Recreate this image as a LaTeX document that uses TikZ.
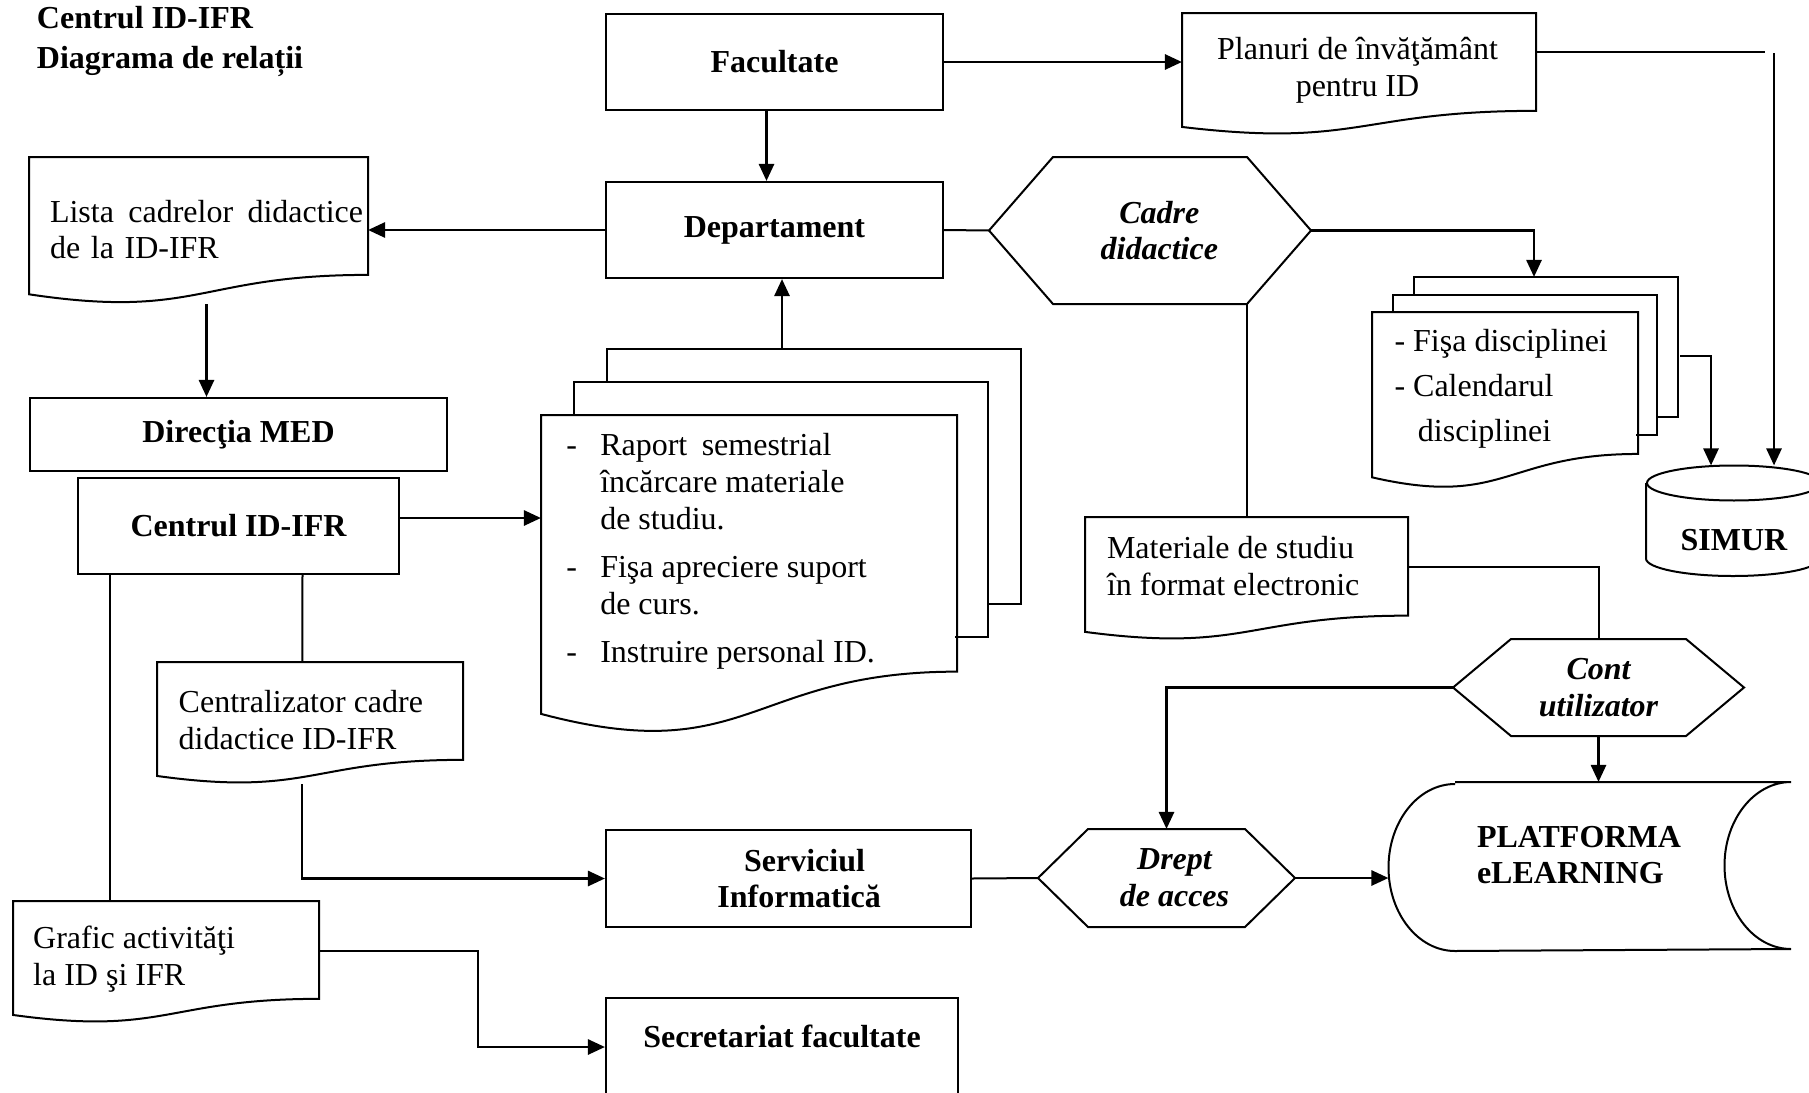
\documentclass[tikz,border=0pt]{standalone}
\usepackage{fontspec}
\setmainfont{Liberation Serif}
\usetikzlibrary{calc,arrows.meta}

\newcommand{\docpath}[1]{%
  \draw (#1.north west) -- (#1.north east) -- ($(#1.north east)!0.802!(#1.south east)$)
    .. controls ($(#1.north)!0.802!(#1.south)$) and ($(#1.north)!1.107!(#1.south)$)
    .. ($(#1.north west)!0.934!(#1.south west)$) -- cycle;}
\newcommand{\hexpath}[2]{%
  \draw (#1.west) -- ($(#1.north west)+(#2,0)$) -- ($(#1.north east)+(-#2,0)$) -- (#1.east)
    -- ($(#1.south east)+(-#2,0)$) -- ($(#1.south west)+(#2,0)$) -- cycle;}

\begin{document}
\begin{tikzpicture}[x=0.375pt,y=-0.375pt,line width=0.75pt,
        sz/.style 2 args={minimum width=#1*0.375pt,minimum height=#2*0.375pt}]
        \tikzstyle{every node}=[inner sep=0pt,font=\fontsize{12pt}{13.8pt}\selectfont]
        \tikzstyle{box}=[draw,align=center,font=\fontsize{12pt}{13.8pt}\selectfont\bfseries]
        \tikzstyle{hexa}=[align=center,font=\fontsize{12pt}{13.8pt}\selectfont\bfseries\itshape]
        \tikzstyle{txt}=[anchor=west,align=left]
        \tikzstyle{arr}=[line width=1.1pt,-{Triangle[length=6.4pt,width=5.6pt]}]
        \useasboundingbox (0,0) rectangle (1809,1092);
        \clip (0,0) rectangle (1809,1092);

        \node[txt,font=\fontsize{12pt}{15pt}\selectfont\bfseries] (title) at (36,41) {Centrul ID-IFR\\Diagrama de relații};

        \node[box,sz={337}{96}] (fac) at (774.5,62) {Facultate};
        \node[box,sz={337}{96}] (dep) at (774.5,230) {Departament};
        \node[box,sz={417}{73}] (med) at (238.5,434.5) {Direcţia MED};
        \node[box,sz={321}{96}] (cid) at (238.5,526) {Centrul ID-IFR};
        \node[box,sz={365}{97}] (serv) at (788.5,878.5) {\hspace*{12pt}Serviciul\\\hspace*{8pt}Informatică};
        \node[draw,font=\fontsize{12pt}{13.8pt}\selectfont\bfseries,minimum width=352*0.375pt,
            text height=18.56pt,text depth=24.19pt] (secr) at (782,1055) {Secretariat facultate};

        \node[hexa,sz={320}{145}] (cadre) at (1150,230.5) {\hspace*{7pt}Cadre\\\hspace*{7pt}didactice};
        \hexpath{cadre}{64}
        \node[hexa,sz={289}{95}] (cont) at (1598.5,687.5) {Cont\\utilizator};
        \hexpath{cont}{58}
        \node[hexa,sz={255}{96}] (drept) at (1166.5,878) {\hspace*{6pt}Drept\\\hspace*{6pt}de acces};
        \hexpath{drept}{50}

        \node[sz={337}{145}] (lista) at (198.5,230.5) {};
        \docpath{lista}
        \node[txt,text width=117.4pt] (listatxt) at ($(lista.west)+(20,-1)$) {Lista\hfill cadrelor\hfill didactice\\de la ID-IFR};

        \node[sz={352}{120}] (planuri) at (1359,74) {};
        \docpath{planuri}
        \node[align=center] (planuritxt) at ($(planuri)+(-1.5,-3.5)$) {Planuri de învăţământ\\pentru ID};

        \node[sz={414}{318}] (raport) at (749,575) {};
        \docpath{raport}
        \foreach \sh in {33,66}
            \draw ($(raport.north west)+(\sh,33-\sh)$) -- ++(0,-33) -- ++(414,0) -- ++(0,255) -- ++(-33,0);
        \node[anchor=west] (raporttxt) at ($(raport.west)+(24.4,-23)$) {\begin{tabular}{@{}p{12.7pt}@{}l@{}}
            -&Raport\hspace{5.4pt}semestrial\\
             &încărcare materiale\\
             &de studiu.\\[4.3pt]
            -&Fişa apreciere suport\\
             &de curs.\\[4.3pt]
            -&Instruire personal ID.
            \end{tabular}};

        \node[sz={264}{175}] (disc) at (1505,400.5) {};
        \docpath{disc}
        \foreach \sh in {1,2}
            \draw ($(disc.north west)+({21*\sh},{17.5-17.5*\sh})$) -- ++(0,-17.5) -- ++(264,0) -- ++(0,140) -- ++(-21,0);
        \node[txt,font=\fontsize{12pt}{16.9pt}\selectfont] (disctxt) at ($(disc.west)+(21.5,-12)$) {- Fişa disciplinei\\- Calendarul\\\hspace*{8.8pt}disciplinei};

        \node[sz={321}{121}] (mat) at (1246.5,578.5) {};
        \docpath{mat}
        \node[txt] (mattxt) at ($(mat.west)+(21,-12.5)$) {Materiale de studiu\\în format electronic};

        \node[sz={304}{120}] (centr) at (310,723) {};
        \docpath{centr}
        \node[txt] (centrtxt) at ($(centr.west)+(20.7,-3.3)$) {Centralizator cadre\\didactice ID-IFR};

        \node[sz={304}{120}] (grafic) at (166,962) {};
        \docpath{grafic}
        \node[txt] (grafictxt) at ($(grafic.west)+(19.2,-2.5)$) {Grafic activităţi\\la ID şi IFR};

        \node[font=\fontsize{12pt}{13.8pt}\selectfont\bfseries,minimum width=174*0.375pt,
            text height=31.5pt,text depth=9.19pt] (simur) at (1734,520.75) {SIMUR};
        \draw ($(simur.north)+(0,17.5)$) ellipse [x radius=87,y radius=17.5];
        \draw ($(simur.north west)+(0,17.5)$) -- ($(simur.south west)+(0,-17.5)$)
            arc [start angle=180,end angle=0,x radius=87,y radius=17.5] -- ($(simur.north east)+(0,17.5)$);

        \node[sz={400.5}{167}] (plat) at (1589.75,866.5) {};
        \draw ($(plat.north west)+(66.5,0)$) -- (plat.north east)
            arc [start angle=270,end angle=90,x radius=66.5,y radius=83.5] -- ($(plat.south west)+(66.5,0)$)
            arc [start angle=90,end angle=270,x radius=66.5,y radius=83.5];
        \node[txt,font=\fontsize{12pt}{13.8pt}\selectfont\bfseries] (plattxt) at ($(plat.west)+(87.5,-11.5)$) {PLATFORMA\\eLEARNING};

        \coordinate (p1) at (1765,52);
        \coordinate (p2) at (1774,53);
        \coordinate (rtop) at ($(raport.north)+(33,-66)$);
        \coordinate (dtop) at ($(disc.north)+(29,-35)$);
        \coordinate (dside) at ($(disc.north east)+(42,44)$);
        \coordinate (ca) at ($(cid.east)+(0,-8)$);
        \coordinate (gs) at (478,1047);

        \draw[arr] ($(fac.south)+(-8,0)$) -- ($(dep.north)+(-8,0)$);
        \draw[arr] (fac.east) -- (fac.east -| planuri.west);
        \draw (planuri.east |- p1) -- (p1);
        \draw[arr] (p2) -- (p2 |- simur.north);
        \draw[arr] (dep.west) -- (dep.west -| lista.east);
        \draw (dep.east) -- (cadre.west);
        \draw[arr] (cadre.east) -| (dtop);
        \draw (mat.north) -- (mat.north |- cadre.south);
        \draw[arr] (rtop) -- (rtop |- dep.south);
        \draw[arr] (dside) -| ($(simur.north)+(-23,0)$);
        \draw ($(mat.east)+(0,-12)$) -| (cont.north);
        \draw[arr] (cont.south) -- (cont.south |- plat.north);
        \draw[arr] (cont.west) -| (drept.north);
        \draw[arr] (drept.east) -- (drept.east -| plat.west);
        \draw (serv.east) -- (drept.west);
        \draw[arr] ($(lista.south)+(8,0)$) -- ($(med.north)+(-32,0)$);
        \draw[arr] (ca) -- (ca -| raport.west);
        \draw ($(cid.south)+(64,0)$) -- ($(centr.north)+(-7.7,0)$);
        \draw ($(cid.south)+(-128.5,0)$) -- ($(grafic.north)+(-56,0)$);
        \draw[arr] ($(centr.south)+(-8,0)$) |- (serv.west);
        \draw[arr] ($(grafic.east)+(0,-11)$) -| (gs) -- (gs -| secr.west);
\end{tikzpicture}
\end{document}
